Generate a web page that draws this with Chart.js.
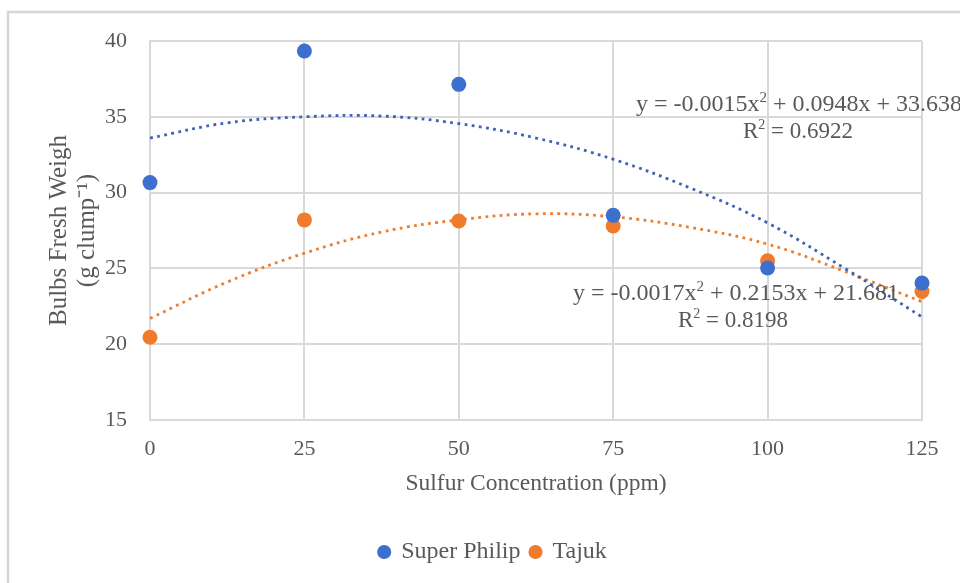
<!DOCTYPE html>
<html>
<head>
<meta charset="utf-8">
<script src="https://cdn.jsdelivr.net/npm/chart.js@4/dist/chart.umd.min.js"></script>
<style>
  html, body { margin: 0; padding: 0; background: #ffffff; }
  #wrap { position: relative; width: 960px; height: 583px; }
</style>
</head>
<body>
<div id="wrap"><canvas id="c" width="960" height="583"></canvas></div>
<script>
// ---- data ----
const concentrations = [0, 25, 50, 75, 100, 125];
const superPhilip = [30.66, 39.34, 37.14, 28.5, 25.03, 24.03];
const tajuk = [20.46, 28.2, 28.13, 27.8, 25.5, 23.48];

// trendline values
const trendX = [0, 12.5, 25, 37.5, 50, 62.5, 75, 87.5, 100, 112.5, 125];
const superPhilipTrend = [33.6, 34.6, 35.0, 35.05, 34.55, 33.6, 32.2, 30.3, 28.0, 25.0, 21.8];
const tajukTrend = [21.7, 24.1, 26.0, 27.4, 28.2, 28.6, 28.4, 27.7, 26.6, 24.8, 22.8];

const seriesNames = ['Super Philip', 'Tajuk'];
const xTicks = [0, 25, 50, 75, 100, 125];
const yTicks = [15, 20, 25, 30, 35, 40];
const xTitle = 'Sulfur Concentration (ppm)';
const yTitle = ['Bulbs Fresh Weigh', '(g clump\u207B\u00B9)'];
const eqSuperPhilip = ['y = -0.0015x', '2', ' + 0.0948x + 33.638'];
const r2SuperPhilip = ['R', '2', ' = 0.6922'];
const eqTajuk = ['y = -0.0017x', '2', ' + 0.2153x + 21.681'];
const r2Tajuk = ['R', '2', ' = 0.8198'];

const SERIF = '"Liberation Serif", "Times New Roman", serif';
const TEXT = '#595959';
const BLUE = '#3d6fcf';
const ORANGE = '#ef7b2c';
const GRID = '#d9d9d9';

const pts = (xs, ys) => xs.map((x, i) => ({x: x, y: ys[i]}));

const framePlugin = {
  id: 'frame',
  beforeDraw(chart) {
    const ctx = chart.ctx;
    ctx.save();
    ctx.fillStyle = '#ffffff';
    ctx.fillRect(0, 0, chart.width, chart.height);
    ctx.strokeStyle = '#d6d6d6';
    ctx.lineWidth = 2.5;
    ctx.strokeRect(8, 12, 1200, 1200);
    ctx.restore();
  },
  afterLayout(chart) {
    // legend sits slightly right of the chart centre in the reference
    const lg = chart.legend;
    if (lg) { lg.left += 32; lg.right += 32; lg.top += 2; lg.bottom += 2; }
  }
};

function drawParts(ctx, parts, x, baseline, size) {
  let cx = x;
  parts.forEach((p, i) => {
    const sup = (i === 1);
    ctx.font = (sup ? Math.round(size * 0.62) : size) + 'px ' + SERIF;
    ctx.fillText(p, cx, sup ? baseline - size * 0.38 : baseline);
    cx += ctx.measureText(p).width;
  });
}

const equationPlugin = {
  id: 'equations',
  afterDatasetsDraw(chart) {
    const ctx = chart.ctx;
    ctx.save();
    ctx.fillStyle = TEXT;
    ctx.textBaseline = 'alphabetic';
    ctx.textAlign = 'left';
    drawParts(ctx, eqSuperPhilip, 636, 111, 24);
    drawParts(ctx, r2SuperPhilip, 743, 138, 23);
    drawParts(ctx, eqTajuk, 573, 300, 24);
    drawParts(ctx, r2Tajuk, 678, 327, 23);
    ctx.restore();
  }
};

new Chart(document.getElementById('c'), {
  type: 'scatter',
  data: {
    datasets: [
      {
        label: seriesNames[0],
        data: pts(concentrations, superPhilip),
        backgroundColor: BLUE,
        borderColor: BLUE,
        pointRadius: 7.5,
        pointHoverRadius: 7.5,
        borderWidth: 0,
        clip: false,
        order: 0
      },
      {
        label: seriesNames[1],
        data: pts(concentrations, tajuk),
        backgroundColor: ORANGE,
        borderColor: ORANGE,
        pointRadius: 7.5,
        pointHoverRadius: 7.5,
        borderWidth: 0,
        clip: false,
        order: 0
      },
      {
        label: 'trend1',
        data: pts(trendX, superPhilipTrend),
        showLine: true,
        tension: 0.4,
        borderColor: '#3f62b6',
        borderWidth: 2.8,
        borderDash: [2.8, 4.4],
        pointRadius: 0,
        fill: false,
        clip: false,
        order: 1
      },
      {
        label: 'trend2',
        data: pts(trendX, tajukTrend),
        showLine: true,
        tension: 0.4,
        borderColor: '#ed7d31',
        borderWidth: 2.8,
        borderDash: [2.8, 4.4],
        pointRadius: 0,
        fill: false,
        clip: false,
        order: 1
      }
    ]
  },
  options: {
    responsive: false,
    animation: false,
    events: [],
    layout: { padding: { top: 41, right: 38, bottom: 11, left: 0 } },
    plugins: {
      legend: {
        position: 'bottom',
        labels: {
          filter: (item) => seriesNames.includes(item.text),
          usePointStyle: true,
          pointStyle: 'circle',
          boxWidth: 10,
          boxHeight: 10,
          padding: 10,
          color: TEXT,
          font: { family: SERIF, size: 24 }
        }
      },
      tooltip: { enabled: false }
    },
    scales: {
      x: {
        type: 'linear',
        min: 0,
        max: 125,
        afterBuildTicks: (s) => { s.ticks = xTicks.map(v => ({value: v})); },
        afterFit: (s) => { s.height = 108; },
        grid: { color: GRID, lineWidth: 2, drawTicks: false },
        border: { color: GRID, width: 2 },
        ticks: { color: TEXT, padding: 16, font: { family: SERIF, size: 22 } },
        title: {
          display: true,
          text: xTitle,
          color: TEXT,
          font: { family: SERIF, size: 23.5 },
          padding: { top: 0, bottom: 30 }
        }
      },
      y: {
        type: 'linear',
        min: 15,
        max: 40,
        afterBuildTicks: (s) => { s.ticks = yTicks.map(v => ({value: v})); },
        afterFit: (s) => { s.width = 150; },
        grid: { color: GRID, lineWidth: 2, drawTicks: false },
        border: { color: GRID, width: 2 },
        ticks: { color: TEXT, padding: 23, font: { family: SERIF, size: 22 } },
        title: {
          display: true,
          text: yTitle,
          color: TEXT,
          align: 'center',
          font: { family: SERIF, size: 25, lineHeight: 1.1 },
          padding: { top: 46, bottom: 0 }
        }
      }
    }
  },
  plugins: [framePlugin, equationPlugin]
});
</script>
</body>
</html>
